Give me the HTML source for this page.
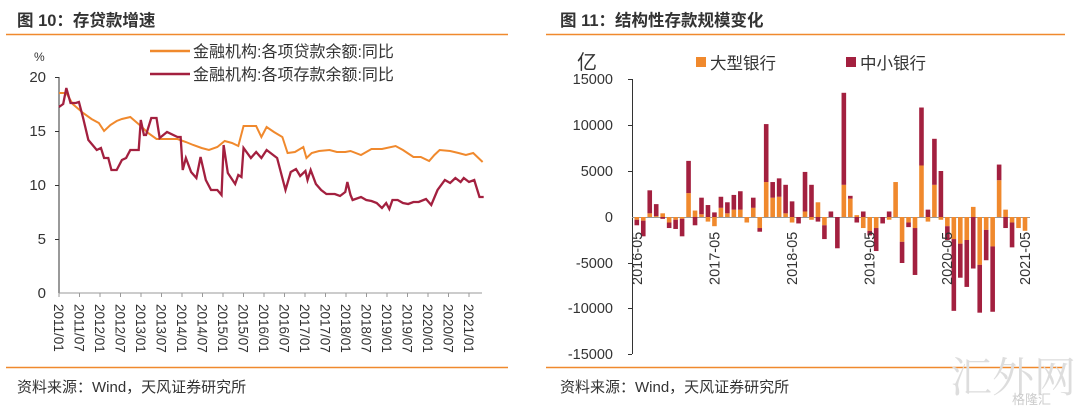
<!DOCTYPE html>
<html><head><meta charset="utf-8"><style>
body{margin:0;background:#fff;}
svg{display:block;font-family:"Liberation Sans","Noto Sans CJK SC",sans-serif;}
</style></head><body>
<svg id="s" width="1080" height="409" viewBox="0 0 1080 409" xmlns="http://www.w3.org/2000/svg">
<rect width="1080" height="409" fill="#fff"/>
<!-- Left panel -->
<text x="17" y="26" font-size="16.5" font-weight="bold" fill="#333">图 10：存贷款增速</text>
<line x1="6" y1="34.5" x2="508" y2="34.5" stroke="#F0892D" stroke-width="1.5"/>
<line x1="6" y1="367.5" x2="508" y2="367.5" stroke="#F0892D" stroke-width="1.5"/>
<text x="17" y="392" font-size="15" fill="#333">资料来源：Wind，天风证券研究所</text>
<line x1="150" y1="51" x2="190" y2="51" stroke="#F0892D" stroke-width="2.5"/>
<text x="193" y="57" font-size="16" fill="#333">金融机构:各项贷款余额:同比</text>
<line x1="150" y1="74" x2="190" y2="74" stroke="#A3203F" stroke-width="2.5"/>
<text x="193" y="80" font-size="16" fill="#333">金融机构:各项存款余额:同比</text>
<text x="34" y="61" font-size="12" fill="#333">%</text>
<g font-size="15" fill="#333" text-anchor="end">
<text x="46" y="82">20</text><text x="46" y="136">15</text><text x="46" y="190">10</text><text x="46" y="244">5</text><text x="46" y="298">0</text>
</g>
<line x1="59" y1="77" x2="59" y2="293" stroke="#333" stroke-width="1"/>
<line x1="59" y1="293" x2="482" y2="293" stroke="#999" stroke-width="1"/>
<g stroke="#333"><line x1="55" y1="77.5" x2="59" y2="77.5"/><line x1="55" y1="131.5" x2="59" y2="131.5"/><line x1="55" y1="185.5" x2="59" y2="185.5"/><line x1="55" y1="239.5" x2="59" y2="239.5"/></g>
<g id="lt"></g>
<g transform="translate(59,0) scale(1.0486,1) translate(-57,0)">
<polyline fill="none" stroke="#F0892D" stroke-width="2" vector-effect="non-scaling-stroke" points="57,93 64,93 70,104 80,113 88,119 95,123 100,131 106,125 112,121 117,119 125,117 135,126 142,133 150,139 160,139 170,139 178,142 185,145 193,148 200,150 208,147 215,141 222,143 228,146 233,126 240,126 245,126 250,137 255,127 262,132 270,137 275,153 282,152 290,147 293,158 298,153 305,151 315,150 322,152 330,152 335,151 345,155 355,149 365,149 378,146 385,150 395,157 402,157 410,161 415,155 420,150 430,151 438,153 445,155 452,153 456,157 461,162"/>
<polyline fill="none" stroke="#A3203F" stroke-width="2.3" vector-effect="non-scaling-stroke" points="57,107 61,104 64,88 68,103 73,103 76,102 80,118 85,140 93,150 97,148 100,158 104,158 107,170 112,170 117,160 121,158 125,150 133,150 135,120 138,135 140,135 145,118 150,118 153,138 160,132 170,137 173,137 175,170 178,158 183,172 188,178 192,157 197,180 202,190 208,190 212,195 214,145 218,173 225,184 228,175 231,177 233,148 240,158 245,152 250,158 255,150 265,158 273,190 278,172 283,169 287,176 292,171 294,180 297,170 302,184 307,190 312,194 320,194 325,196 330,192 332,182 335,195 337,200 345,197 350,200 355,201 360,203 365,208 369,203 372,209 375,200 380,200 385,203 390,204 395,202 400,202 407,199 412,205 418,190 425,180 430,183 435,178 440,182 443,178 448,182 453,180 458,197 462,197"/>
</g>
<!-- Right panel -->
<text x="560" y="26" font-size="16.5" font-weight="bold" fill="#333">图 11：结构性存款规模变化</text>
<line x1="546" y1="34.5" x2="1065" y2="34.5" stroke="#F0892D" stroke-width="1.5"/>
<line x1="546" y1="367.5" x2="1065" y2="367.5" stroke="#F0892D" stroke-width="1.5"/>
<text x="560" y="392" font-size="15" fill="#333">资料来源：Wind，天风证券研究所</text>
<text x="577" y="69" font-size="20" fill="#333">亿</text>
<rect x="696" y="57" width="10" height="10" fill="#F0892D"/><text x="710" y="69" font-size="16.5" fill="#333">大型银行</text>
<rect x="846" y="57" width="10" height="10" fill="#A3203F"/><text x="860" y="69" font-size="16.5" fill="#333">中小银行</text>
<g font-size="14.5" fill="#333" text-anchor="end">
<text x="613" y="84">15000</text><text x="613" y="130">10000</text><text x="613" y="176">5000</text><text x="613" y="222">0</text><text x="613" y="268">-5000</text><text x="613" y="313">-10000</text><text x="613" y="359">-15000</text>
</g>
<line x1="632.5" y1="79" x2="632.5" y2="354" stroke="#333"/>
<g id="rt" stroke="#333"></g>
<line x1="632" y1="217.5" x2="1030" y2="217.5" stroke="#999"/>
<g id="bars"></g>
<g id="rl" font-size="14.5" fill="#333"></g>
<text x="950" y="392" font-size="42" fill="#ddd" font-family="'Noto Serif CJK SC',serif">汇外网</text>
<text x="1012" y="404" font-size="13" fill="#ccc">格隆汇</text>
</svg>
<script>
var NS="http://www.w3.org/2000/svg";
function el(p,t,a,txt){var e=document.createElementNS(NS,t);for(var k in a)e.setAttribute(k,a[k]);if(txt)e.textContent=txt;document.getElementById(p).appendChild(e);return e;}
var labs=["2011/01","2011/07","2012/01","2012/07","2013/01","2013/07","2014/01","2014/07","2015/01","2015/07","2016/01","2016/07","2017/01","2017/07","2018/01","2018/07","2019/01","2019/07","2020/01","2020/07","2021/01"];
for(var i=0;i<labs.length;i++){var x=59+i*20.5;
el("lt","line",{x1:x,y1:293,x2:x,y2:297,stroke:"#999"});
el("lt","text",{x:0,y:0,"font-size":13.5,fill:"#333",transform:"translate("+(x-4.8)+",304) rotate(90)"},labs[i]);}
[79,125,171,263,308,354].forEach(function(y){el("rt","line",{x1:628,y1:y+.5,x2:632,y2:y+.5});});
var d=[[-.3,-.6],[-.4,-1.7],[.4,2.5],[.1,1.3],[.4,-.2],[-.6,-.6],[-.3,-1],[-.2,-1.9],[2.6,3.5],[.7,-.9],[.3,1.8],[-.5,1.3],[-1,.5],[1,1.2],[.4,1.2],[.8,1.6],[.8,2],[-.6,0],[1,1.1],[-1.2,-.4],[3.8,6.3],[2.1,1.7],[2.2,2],[.4,3.1],[-.6,1.7],[0,-.7],[.6,4.3],[-.3,3.5],[1.6,-.5],[-.9,-1.5],[0,.6],[0,-3.4],[3.5,10],[2,.3],[.2,-.6],[-1.2,.6],[-1.5,-.5],[-1.2,-2.5],[0,-.7],[-.3,.6],[3.8,0],[-2.7,-2.3],[-.6,-.5],[-1.2,-5.1],[5.6,6.3],[-.5,.8],[3.5,5],[-.3,5],[-1,-1.5],[-2.4,-7.8],[-2.9,-3.7],[-2.5,-5.1],[1.1,-5.6],[-5.2,-5.2],[-1.4,-3.3],[-3.2,-7.1],[4,1.7],[.8,-1.2],[-.6,-2.7],[-1.2,0],[-1.5,0]];
var sc=46/5,z=217;
d.forEach(function(v,i){var x=634.5+i*6.47,pos=0,neg=0;
[[v[0],"#F0892D"],[v[1],"#A3203F"]].forEach(function(q){var h=Math.abs(q[0])*sc;if(!h)return;
if(q[0]>0){pos+=h;el("bars","rect",{x:x,y:z-pos,width:4.6,height:h,fill:q[1]});}
else{el("bars","rect",{x:x,y:z+neg,width:4.6,height:h,fill:q[1]});neg+=h;}});});
["2016-05","2017-05","2018-05","2019-05","2020-05","2021-05"].forEach(function(t,i){var x=636.8+i*77.6;
el("rl","text",{x:0,y:0,transform:"translate("+(x+5)+",285) rotate(-90)"},t);});
</script>
</body></html>
